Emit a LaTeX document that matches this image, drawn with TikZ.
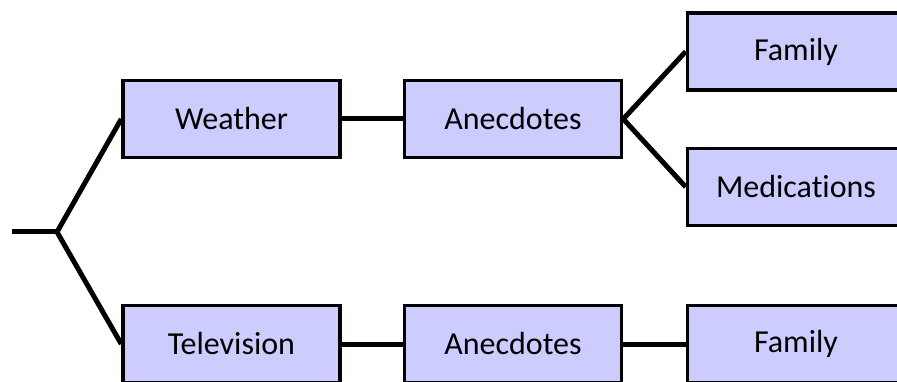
\documentclass[tikz,border=0pt]{standalone}
\usepackage{fontspec}
\setmainfont{Carlito}[Ligatures=NoCommon]
\usepackage{tikz}
\definecolor{boxblue}{HTML}{CCCCFF}

\begin{document}
\begin{tikzpicture}[x=1pt, y=-1pt,
    topic/.style={draw, fill=boxblue, line width=3.5pt, minimum width=217pt,
      minimum height=77pt, inner sep=0pt, font=\fontsize{32}{38}\selectfont},
    branch/.style={line width=5pt}]
    \useasboundingbox (0,0) rectangle (897,382);
    \clip (0,0) rectangle (897,382);

    % upper row
    \node[topic] (weather) at (231.5, 119) {Weather};
    \node[topic] (anecA) at (513, 119) {Anecdotes};
    \node[topic] (famA) at (796, 51.5) {Family};
    \node[topic] (meds) at (796, 187) {Medications};

    % lower row
    \node[topic] (tv) at (231.5, 344) {Television};
    \node[topic] (anecB) at (513, 344) {Anecdotes};
    \node[topic] (famB) at (796, 344) {Family};

    \coordinate (root) at (12, 232);
    \coordinate (fork) at (57, 232);

    \draw[branch] (root) -- (fork);
    \draw[branch] (fork) -- (weather.west);
    \draw[branch] (fork) -- (tv.west);
    \draw[branch] (weather.east) -- (anecA.west);
    \draw[branch] (anecA.east) -- (famA.west);
    \draw[branch] (anecA.east) -- (meds.west);
    \draw[branch] (tv.east) -- (anecB.west);
    \draw[branch] (anecB.east) -- (famB.west);
  \end{tikzpicture}
\end{document}
